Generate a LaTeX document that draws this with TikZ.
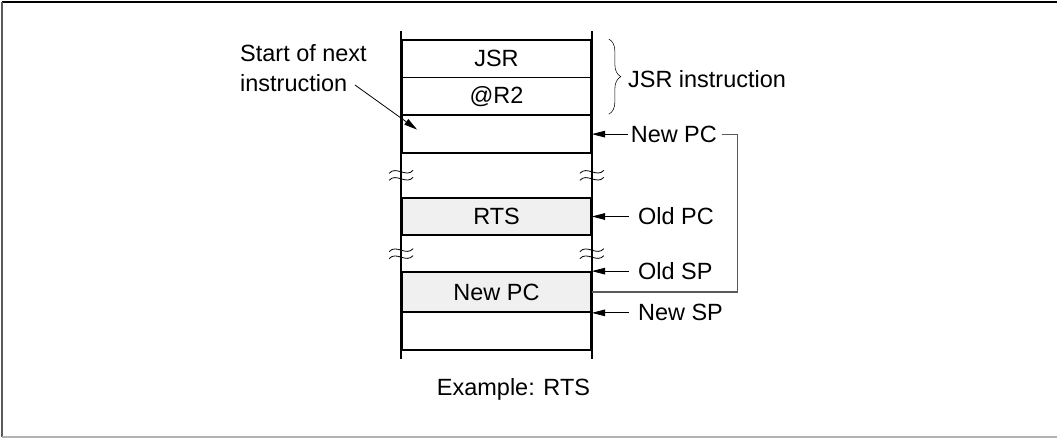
\documentclass[tikz,border=0pt]{standalone}
\usepackage{fontspec}
\setmainfont{Liberation Sans}
\usetikzlibrary{arrows.meta, positioning, calc, decorations.pathreplacing}
\definecolor{cellgray}{RGB}{240,240,240}
\definecolor{linkgray}{RGB}{90,90,90}
\newcommand{\memfont}{\fontsize{17.6}{22.5}\selectfont}
\tikzset{
    memcell/.style={rectangle, draw=black, fill=#1, line width=1.3pt, minimum width=141.75pt, minimum height=28.25pt, inner sep=0pt, font=\memfont},
    memcell/.default=white,
    stackline/.style={line width=1.3pt},
    ptrarrow/.style={-{Triangle[length=10pt, width=5pt]}, line width=0.6pt},
    memlabel/.style={font=\memfont, inner sep=2pt},
    linkline/.style={draw=linkgray, line width=0.9pt},
    breakmark/.pic={
        \draw[line width=0.6pt] (-12,-2) .. controls (-5,-10) and (5,3) .. (12,-5);
        \draw[line width=0.6pt] (-12,5) .. controls (-5,-3) and (5,10) .. (12,2);
    }
}

\begin{document}
\begin{tikzpicture}[x=0.75pt, y=-0.75pt]
\useasboundingbox (0,0) rectangle (1057,438);

% frame
\draw[line width=1.5pt] (1057,2) -- (2,2);
\draw[black!65, line width=1.5pt] (2,2) -- (2,437);
\draw[black!30, line width=0.8pt] (2,437) -- (1057,437);

% stack
\node[memcell] (jsr) at (496.5,58.8) {JSR};
\node[memcell, below=-1.3pt of jsr] (rtwo) {@R2};
\node[memcell, below=-1.3pt of rtwo] (nxt) {};
\node[memcell=cellgray] (rts) at (496.5,216.5) {RTS};
\node[memcell=cellgray, minimum height=30pt] (newpc) at (496.5,292) {New PC};
\node[memcell, below=-1.3pt of newpc] (last) {};

\draw[stackline] ([yshift=6pt]jsr.north west) -- ([yshift=-6pt]last.south west);
\draw[stackline] ([yshift=6pt]jsr.north east) -- ([yshift=-6pt]last.south east);

% breaks in the stack
\foreach \a/\b in {nxt/rts, rts/newpc} {
    \pic at ($(\a.south west)!0.5!(\b.north west)$) {breakmark};
    \pic at ($(\a.south east)!0.5!(\b.north east)$) {breakmark};
}

% JSR brace
\draw[decorate, decoration={brace, amplitude=9pt}] ([xshift=12.75pt]jsr.north east) -- ([xshift=12.75pt, yshift=1.5pt]rtwo.south east);
\node[memlabel, anchor=west] (jsrlbl) at ([xshift=25pt, yshift=-1pt]$(jsr.east)!0.5!(rtwo.east)$) {JSR instruction};

% pointers
\node[memlabel, anchor=west] (npclbl) at ([xshift=27pt]nxt.east) {New PC};
\node[memlabel, anchor=west] (opclbl) at ([xshift=32.5pt]rts.east) {Old PC};
\node[memlabel, anchor=west] (osplbl) at ([xshift=32.5pt]newpc.north east) {Old SP};
\node[memlabel, anchor=west] (nsplbl) at ([xshift=32.5pt]newpc.south east) {New SP};

\draw[ptrarrow] (npclbl.west) -- (npclbl.west -| nxt.east);
\draw[ptrarrow] ([xshift=-4.7pt]opclbl.west) -- (opclbl.west -| rts.east);
\draw[ptrarrow] ([xshift=-4.7pt]osplbl.west) -- (osplbl.west -| newpc.east);
\draw[ptrarrow] ([xshift=-4.7pt]nsplbl.west) -- (nsplbl.west -| newpc.east);

\draw[linkline] (newpc.east) -| ([xshift=13pt]npclbl.east) -- ([xshift=2pt]npclbl.east);

% start of next instruction
\node[memlabel, align=left, anchor=west] (startlbl) at (237.3,68.5) {Start of next\\instruction};
\draw[ptrarrow] ([shift={(-11pt,-12.4pt)}]startlbl.east) -- ([shift={(12pt,3.4pt)}]nxt.west);

\node[memlabel, anchor=base] (caption) at (513.5,396) {Example: RTS};

\end{tikzpicture}
\end{document}
